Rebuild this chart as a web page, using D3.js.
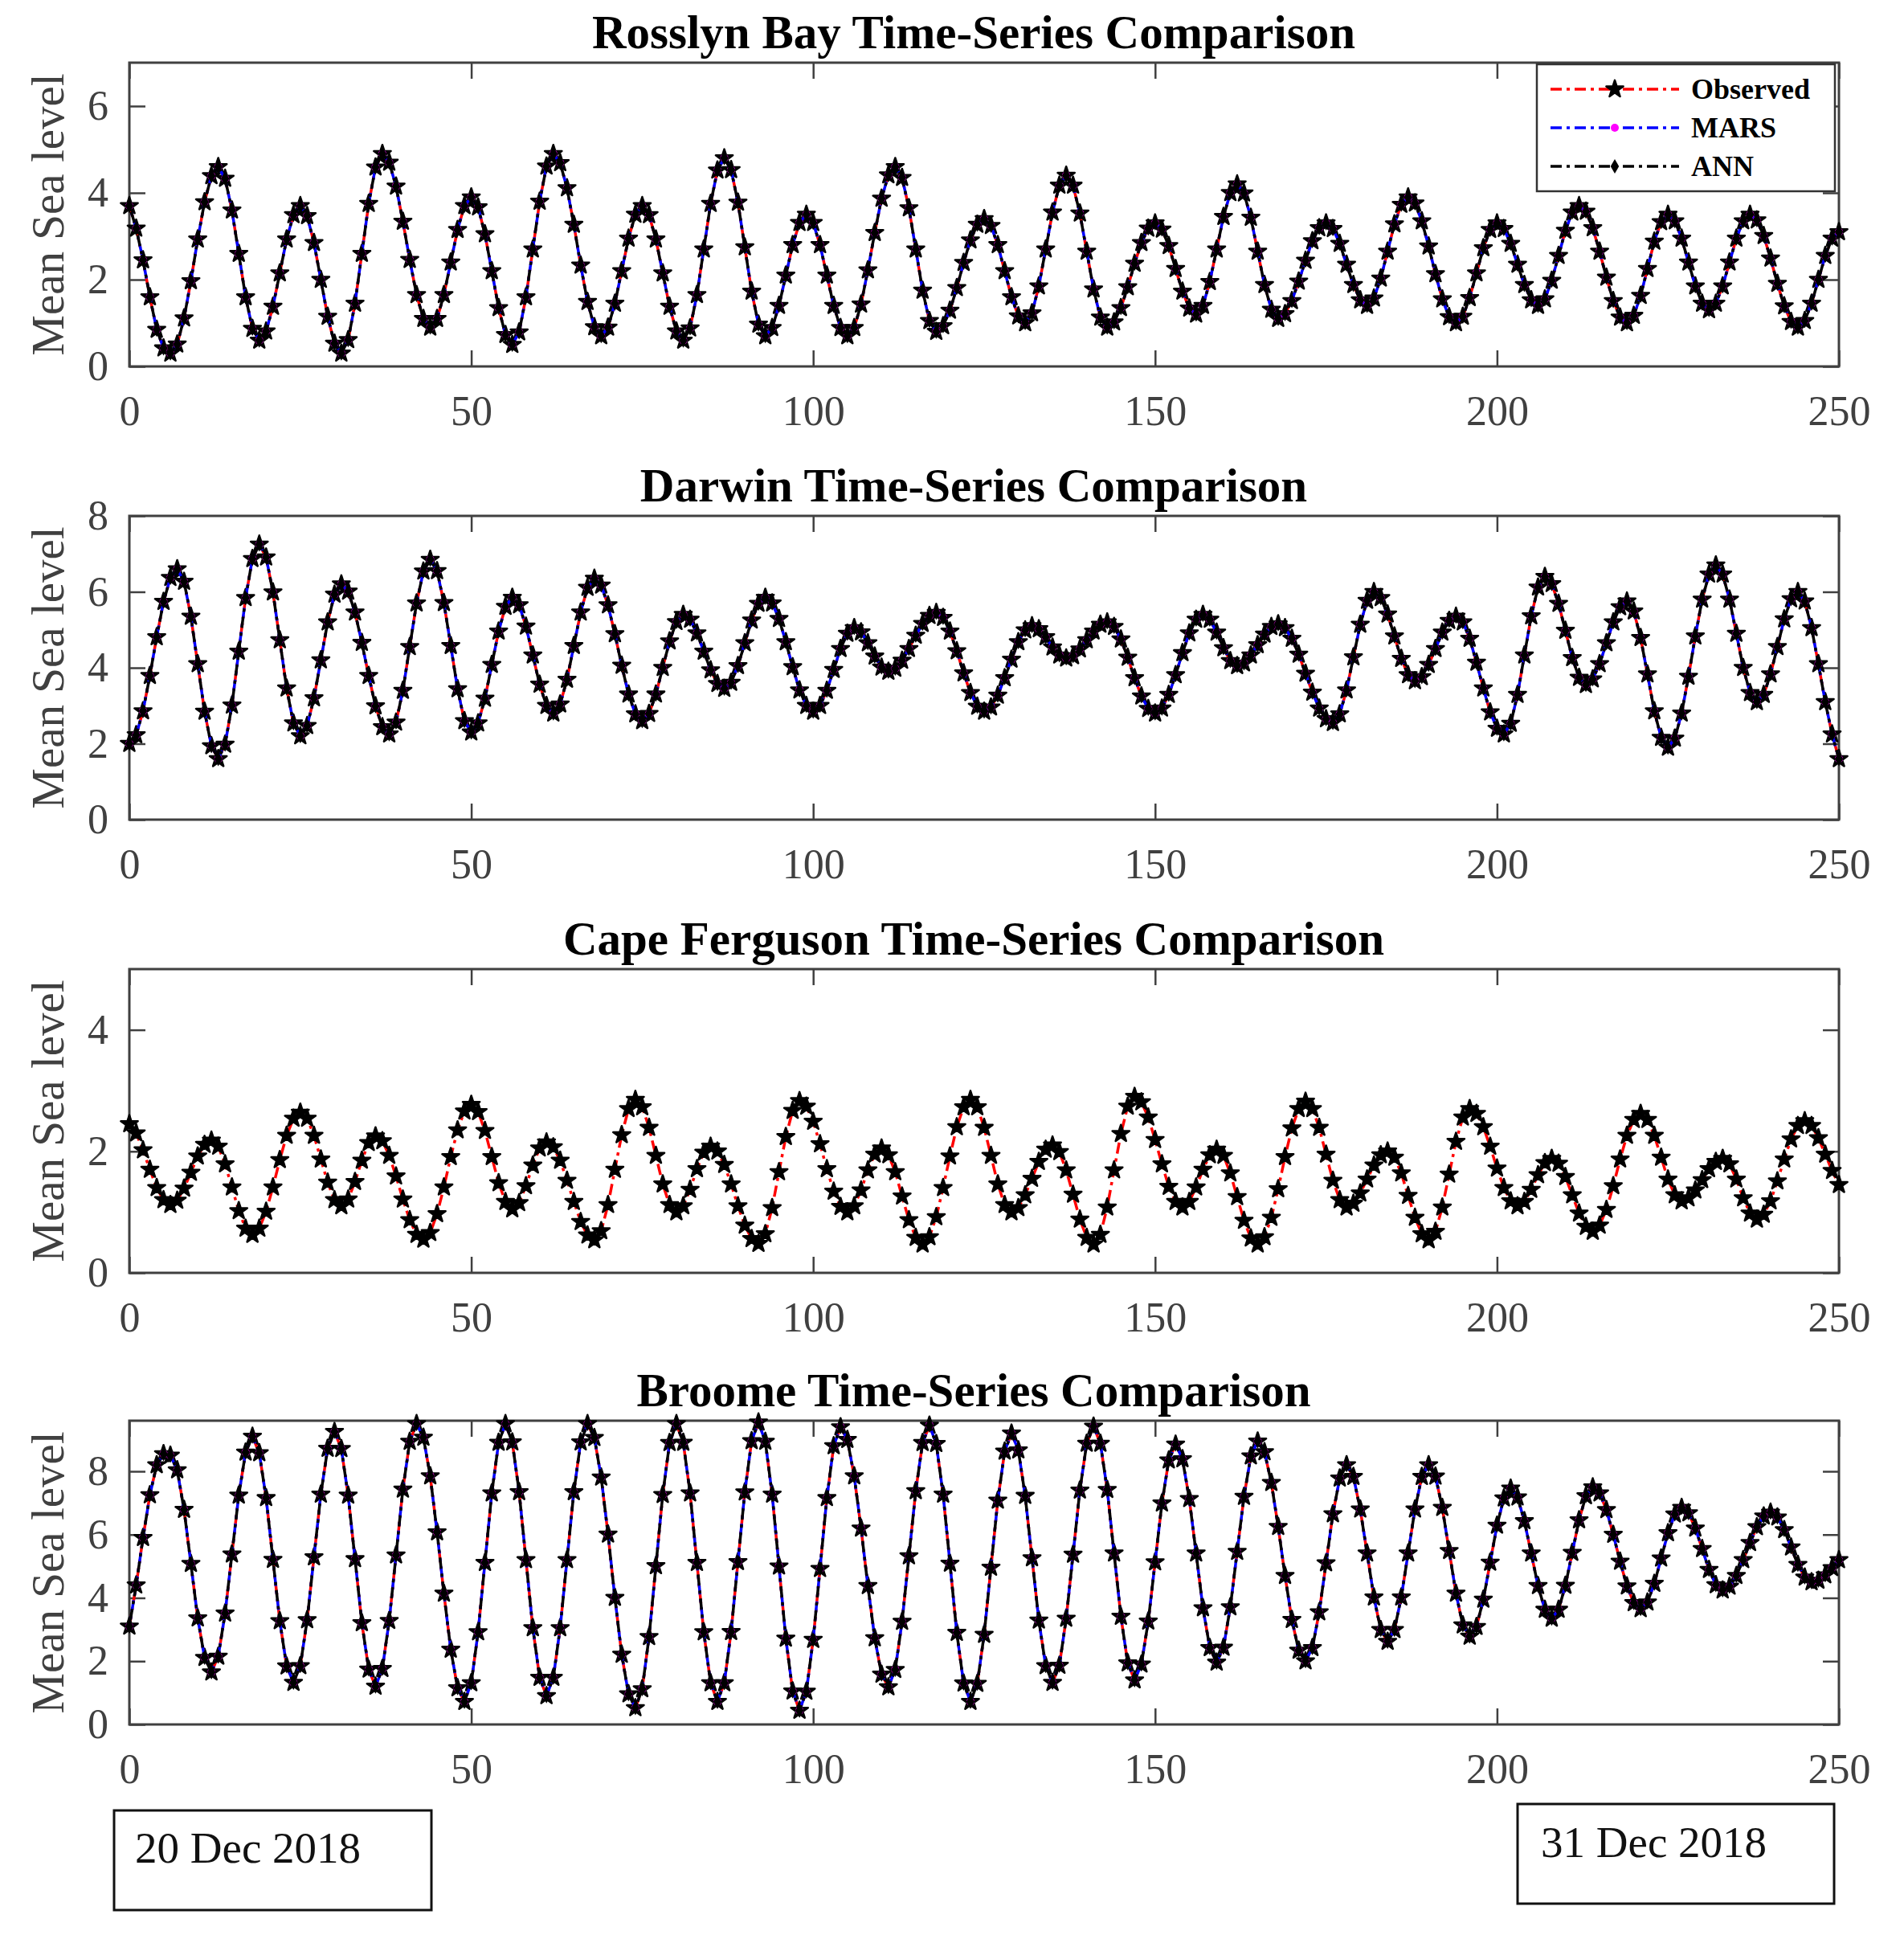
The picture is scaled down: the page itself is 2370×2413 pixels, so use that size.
<!DOCTYPE html>
<html>
<head>
<meta charset="utf-8">
<script src="https://cdn.jsdelivr.net/npm/d3@7"></script>
<style>
  body { margin: 0; background: #fff; }
  svg { display: block; }
</style>
</head>
<body>
<svg id="chart"></svg>
<script>
// ---- data (hourly samples 0..250) ----
const xTicks = [0, 50, 100, 150, 200, 250];
const seriesNames = ['Observed', 'MARS', 'ANN'];
const titles = [
  'Rosslyn Bay Time-Series Comparison',
  'Darwin Time-Series Comparison',
  'Cape Ferguson Time-Series Comparison',
  'Broome Time-Series Comparison'
];
const yMaxes = [7, 8, 5, 9.6];
const yTickSets = [[0, 2, 4, 6], [0, 2, 4, 6, 8], [0, 2, 4], [0, 2, 4, 6, 8]];

const rosslynObs = [
  3.70,3.18,2.45,1.60,0.85,0.42,0.30, 0.51,1.11,1.97,2.93,3.79,4.39,4.60,
  4.33,3.60,2.60,1.60,0.87,0.60, 0.81,1.38,2.15,2.93,3.49,3.70,
  3.47,2.85,2.00,1.15,0.53,0.30, 0.61,1.45,2.60,3.75,4.59,4.90,
  4.70,4.15,3.34,2.46,1.65,1.10,0.90, 1.10,1.65,2.40,3.15,3.70,3.90,
  3.67,3.05,2.20,1.35,0.73,0.50, 0.79,1.60,2.70,3.80,4.61,4.90,
  4.69,4.11,3.27,2.33,1.49,0.91,0.70, 0.90,1.45,2.20,2.95,3.50,3.70,
  3.49,2.93,2.15,1.38,0.81,0.60, 0.88,1.65,2.70,3.75,4.52,4.80,
  4.53,3.78,2.75,1.73,0.97,0.70, 0.89,1.40,2.10,2.80,3.31,3.50,
  3.31,2.80,2.10,1.40,0.89,0.70, 0.89,1.43,2.22,3.08,3.87,4.41,4.60,
  4.35,3.65,2.70,1.75,1.05,0.80, 0.93,1.29,1.81,2.39,2.91,3.27,3.40,
  3.24,2.80,2.20,1.60,1.16,1.00, 1.23,1.85,2.70,3.55,4.17,4.40,
  4.17,3.53,2.65,1.78,1.13,0.90, 1.02,1.35,1.83,2.37,2.85,3.18,3.30,
  3.16,2.78,2.25,1.73,1.34,1.20, 1.40,1.95,2.70,3.45,4.00,4.20,
  3.99,3.43,2.65,1.88,1.31,1.10, 1.21,1.51,1.96,2.44,2.89,3.19,3.30,
  3.17,2.83,2.35,1.88,1.53,1.40, 1.57,2.03,2.65,3.28,3.73,3.90,
  3.76,3.35,2.77,2.13,1.55,1.14,1.00, 1.15,1.58,2.15,2.73,3.15,3.30,
  3.17,2.83,2.35,1.88,1.53,1.40, 1.55,1.98,2.55,3.13,3.55,3.70,
  3.57,3.19,2.65,2.05,1.51,1.13,1.00, 1.17,1.63,2.25,2.88,3.33,3.50,
  3.35,2.95,2.40,1.85,1.45,1.30, 1.45,1.85,2.40,2.95,3.35,3.50,
  3.37,3.01,2.49,1.91,1.39,1.03,0.90, 1.05,1.45,2.00,2.55,2.95,3.10
];

const darwinObs = [
  2.00,2.23,2.86,3.79,4.81,5.74,6.37,6.60, 6.27,5.35,4.10,2.85,1.94,1.60,
  1.98,3.01,4.43,5.84,6.87,7.25, 6.91,5.99,4.73,3.46,2.54,2.20,
  2.47,3.20,4.20,5.20,5.93,6.20, 6.01,5.46,4.66,3.79,2.99,2.44,2.25,
  2.56,3.40,4.55,5.70,6.54,6.85, 6.55,5.71,4.58,3.44,2.60,2.30,
  2.54,3.19,4.08,4.96,5.61,5.85, 5.65,5.09,4.33,3.56,3.00,2.80,
  3.04,3.69,4.58,5.46,6.11,6.35, 6.17,5.65,4.89,4.06,3.30,2.78,2.60,
  2.79,3.30,4.00,4.70,5.21,5.40, 5.27,4.91,4.43,3.94,3.58,3.45,
  3.61,4.05,4.65,5.25,5.69,5.85, 5.70,5.29,4.68,4.02,3.41,3.00,2.85,
  3.00,3.40,3.95,4.50,4.90,5.05, 4.94,4.65,4.30,4.01,3.90,
  3.98,4.19,4.50,4.85,5.16,5.37,5.45, 5.32,4.96,4.44,3.86,3.34,2.98,2.85,
  2.96,3.27,3.73,4.22,4.68,4.99,5.10, 5.02,4.81,4.54,4.33,4.25,
  4.31,4.49,4.73,4.96,5.14,5.20, 5.08,4.75,4.27,3.73,3.25,2.92,2.80,
  2.93,3.29,3.81,4.39,4.91,5.27,5.40, 5.27,4.93,4.52,4.18,4.05,
  4.12,4.33,4.60,4.88,5.08,5.15, 5.05,4.77,4.35,3.85,3.35,2.93,2.65,2.55,
  2.78,3.41,4.28,5.14,5.77,6.00, 5.84,5.41,4.83,4.24,3.81,3.65,
  3.76,4.08,4.50,4.93,5.24,5.35, 5.20,4.77,4.14,3.46,2.83,2.40,2.25,
  2.53,3.29,4.33,5.36,6.12,6.40, 6.21,5.69,4.98,4.26,3.74,3.55,
  3.70,4.10,4.65,5.20,5.60,5.75, 5.49,4.79,3.83,2.86,2.16,1.90,
  2.14,2.80,3.77,4.83,5.80,6.46,6.70, 6.46,5.80,4.90,4.00,3.34,3.10,
  3.29,3.83,4.55,5.28,5.81,6.00, 5.75,5.05,4.10,3.10,2.25,1.60
];

const capeObs = [
  2.45,2.30,2.02,1.70,1.40,1.20,1.12, 1.19,1.39,1.65,1.92,2.11,2.18,
  2.08,1.79,1.41,1.02,0.73,0.63, 0.73,1.01,1.41,1.86,2.26,2.54,2.64,
  2.54,2.26,1.87,1.49,1.20,1.10, 1.21,1.50,1.85,2.14,2.25,
  2.17,1.93,1.59,1.21,0.87,0.63,0.55, 0.66,0.97,1.41,1.91,2.35,2.66,2.77,
  2.65,2.34,1.91,1.48,1.17,1.05, 1.15,1.43,1.77,2.05,2.15,
  2.07,1.85,1.52,1.17,0.84,0.62,0.54, 0.69,1.12,1.70,2.27,2.70,2.85,
  2.73,2.39,1.93,1.46,1.12,1.00, 1.10,1.37,1.71,1.98,2.08,
  2.00,1.78,1.46,1.10,0.78,0.56,0.48, 0.64,1.07,1.66,2.24,2.67,2.83,
  2.74,2.49,2.12,1.71,1.34,1.09,1.00, 1.10,1.36,1.69,1.95,2.05,
  1.94,1.66,1.26,0.87,0.58,0.47, 0.59,0.92,1.40,1.92,2.40,2.73,2.85,
  2.73,2.39,1.93,1.46,1.12,1.00, 1.07,1.28,1.55,1.83,2.03,2.10,
  1.99,1.69,1.29,0.88,0.58,0.47, 0.63,1.08,1.69,2.29,2.74,2.90,
  2.81,2.56,2.19,1.79,1.42,1.17,1.08, 1.17,1.41,1.70,1.94,2.03,
  1.93,1.64,1.25,0.86,0.57,0.47, 0.59,0.91,1.38,1.91,2.38,2.70,2.82,
  2.70,2.39,1.95,1.52,1.20,1.08, 1.14,1.31,1.54,1.77,1.94,2.00,
  1.90,1.64,1.27,0.91,0.64,0.54, 0.68,1.08,1.62,2.16,2.56,2.70,
  2.62,2.40,2.08,1.72,1.40,1.18,1.10, 1.17,1.37,1.61,1.81,1.88,
  1.80,1.58,1.28,0.98,0.76,0.68, 0.78,1.04,1.43,1.87,2.26,2.52,2.62,
  2.52,2.26,1.90,1.54,1.28,1.18, 1.23,1.36,1.53,1.71,1.83,1.88,
  1.79,1.54,1.23,0.98,0.88, 0.96,1.18,1.51,1.87,2.20,2.42,2.50,
  2.42,2.22,1.95,1.68,1.45
];

const broomeObs = [
  3.10,4.40,5.90,7.25,8.20,8.55,8.50, 8.04,6.79,5.08,3.36,2.11,1.65,
  2.15,3.51,5.38,7.24,8.60,9.10, 8.58,7.16,5.21,3.27,1.84,1.32,
  1.85,3.30,5.29,7.27,8.72,9.25, 8.71,7.24,5.23,3.21,1.74,1.20,
  1.76,3.28,5.35,7.43,8.94,9.50, 9.07,7.85,6.08,4.14,2.37,1.15,0.72,
  1.31,2.92,5.11,7.31,8.91,9.50, 8.92,7.35,5.20,3.05,1.48,0.90,
  1.48,3.05,5.20,7.35,8.92,9.50, 9.06,7.81,6.01,4.01,2.21,0.96,0.52,
  1.12,2.77,5.01,7.26,8.90,9.50, 8.91,7.31,5.11,2.92,1.31,0.72,
  1.31,2.93,5.14,7.34,8.96,9.55, 8.94,7.27,5.00,2.72,1.05,0.44,
  1.04,2.68,4.92,7.16,8.80,9.40, 9.00,7.85,6.20,4.38,2.73,1.58,1.18,
  1.73,3.25,5.32,7.38,8.90,9.45, 8.87,7.27,5.09,2.90,1.30,0.72,
  1.29,2.84,4.96,7.08,8.63,9.20, 8.67,7.23,5.26,3.29,1.85,1.32,
  1.86,3.35,5.37,7.40,8.88,9.42, 8.88,7.42,5.41,3.41,1.94,1.40,
  1.90,3.26,5.13,6.99,8.35,8.85, 8.39,7.13,5.41,3.68,2.42,1.96,
  2.43,3.71,5.46,7.20,8.48,8.95, 8.61,7.64,6.25,4.70,3.31,2.34,2.00,
  2.42,3.55,5.10,6.65,7.78,8.20, 7.83,6.80,5.41,4.02,2.99,2.62,
  2.99,4.02,5.41,6.80,7.83,8.20, 7.84,6.85,5.49,4.14,3.14,2.78,
  3.09,3.95,5.12,6.29,7.15,7.46, 7.18,6.43,5.41,4.38,3.63,3.35,
  3.63,4.39,5.43,6.46,7.22,7.50, 7.31,6.78,6.00,5.15,4.37,3.84,3.65,
  3.86,4.45,5.25,6.05,6.64,6.85, 6.68,6.20,5.55,4.89,4.41,4.24,
  4.36,4.70,5.20,5.74,6.24,6.58,6.70, 6.55,6.15,5.60,5.05,4.65,4.50,
  4.55,4.72,4.95,5.20
];

// the MARS and ANN curves sit on the observed curve at this scale
const rosslynMars = rosslynObs, rosslynAnn = rosslynObs;
const darwinMars = darwinObs, darwinAnn = darwinObs;
const broomeMars = broomeObs, broomeAnn = broomeObs;

const panelSeries = [
  [rosslynObs, rosslynMars, rosslynAnn],
  [darwinObs, darwinMars, darwinAnn],
  [capeObs],
  [broomeObs, broomeMars, broomeAnn]
];

const dateLabels = ['20 Dec 2018', '31 Dec 2018'];

// ---- layout ----
const width = 2370, height = 2413;
const plotLeft = 161, plotRight = 2289;
const panelTops = [78, 642, 1206, 1768];
const panelH = 378;
const tickLen = 20;
const serif = '"Liberation Serif", "Times New Roman", serif';
const axisColor = '#404040';

const styles = [
  { stroke: '#ff0000', offset: 0 },
  { stroke: '#0000ff', offset: 11 },
  { stroke: '#000000', offset: 22 }
];

const svg = d3.select('#chart')
  .attr('width', width)
  .attr('height', height)
  .style('background', '#fff');

const x = d3.scaleLinear().domain([0, 250]).range([plotLeft, plotRight]);

// draw one marker of a series at (cx, cy)
function drawMarker(g, s, cx, cy) {
  if (s === 0) {
    g.append('path')
      .attr('d', d3.symbol(d3.symbolStar, 140)())
      .attr('transform', `translate(${cx},${cy})`)
      .attr('fill', '#000').attr('stroke', '#000').attr('stroke-width', 2.5)
      .attr('stroke-linejoin', 'round');
  } else if (s === 1) {
    g.append('circle').attr('cx', cx).attr('cy', cy).attr('r', 5)
      .attr('fill', '#ff00ff');
  } else {
    g.append('path')
      .attr('d', d3.symbol(d3.symbolDiamond, 95)())
      .attr('transform', `translate(${cx},${cy})`)
      .attr('fill', '#000');
  }
}

function styleAxis(g) {
  g.select('.domain').remove();
  g.selectAll('.tick line').attr('stroke', axisColor).attr('stroke-width', 2.5);
  g.selectAll('.tick text')
    .attr('fill', axisColor)
    .style('font-family', serif)
    .style('font-size', '52px');
}

titles.forEach((title, i) => {
  const top = panelTops[i];
  const bottom = top + panelH;
  const y = d3.scaleLinear().domain([0, yMaxes[i]]).range([bottom, top]);
  const g = svg.append('g');

  // axes with inward ticks on all four sides
  g.append('g')
    .attr('transform', `translate(0,${bottom})`)
    .call(d3.axisBottom(x).tickValues(xTicks).tickSizeInner(-tickLen).tickSizeOuter(0)
      .tickPadding(36).tickFormat(d3.format('d')))
    .call(styleAxis);
  g.append('g')
    .attr('transform', `translate(0,${top})`)
    .call(d3.axisTop(x).tickValues(xTicks).tickSizeInner(-tickLen).tickSizeOuter(0).tickFormat(''))
    .call(styleAxis);
  g.append('g')
    .attr('transform', `translate(${plotLeft},0)`)
    .call(d3.axisLeft(y).tickValues(yTickSets[i]).tickSizeInner(-tickLen).tickSizeOuter(0)
      .tickPadding(26).tickFormat(d3.format('d')))
    .call(styleAxis);
  g.append('g')
    .attr('transform', `translate(${plotRight},0)`)
    .call(d3.axisRight(y).tickValues(yTickSets[i]).tickSizeInner(-tickLen).tickSizeOuter(0).tickFormat(''))
    .call(styleAxis);

  g.append('rect')
    .attr('x', plotLeft).attr('y', top)
    .attr('width', plotRight - plotLeft).attr('height', panelH)
    .attr('fill', 'none').attr('stroke', axisColor).attr('stroke-width', 3);

  // series: line first, then its markers
  const line = d3.line().x((d, k) => x(k)).y(d => y(d));
  panelSeries[i].forEach((vals, s) => {
    g.append('path')
      .datum(vals)
      .attr('d', line)
      .attr('fill', 'none')
      .attr('stroke', styles[s].stroke)
      .attr('stroke-width', 3.5)
      .attr('stroke-dasharray', '14,6,4,6')
      .attr('stroke-dashoffset', styles[s].offset);
    const mg = g.append('g');
    vals.forEach((v, k) => drawMarker(mg, s, x(k), y(v)));
  });

  // title
  svg.append('text')
    .attr('x', 1212)
    .attr('y', top - 18)
    .attr('text-anchor', 'middle')
    .style('font-family', serif)
    .style('font-weight', 'bold')
    .style('font-size', '59px')
    .attr('fill', '#000')
    .text(title);

  // y label
  svg.append('text')
    .attr('transform', `translate(59,${top + panelH / 2}) rotate(-90)`)
    .attr('text-anchor', 'middle')
    .attr('dominant-baseline', 'central')
    .style('font-family', serif)
    .style('font-size', '57px')
    .attr('fill', axisColor)
    .text('Mean Sea level');
});

// legend in the first panel
const legend = svg.append('g');
legend.append('rect')
  .attr('x', 1913).attr('y', 80).attr('width', 371).attr('height', 158)
  .attr('fill', '#fff').attr('stroke', '#333').attr('stroke-width', 2.5);
seriesNames.forEach((name, s) => {
  const ly = 111 + s * 48;
  legend.append('line')
    .attr('x1', 1930).attr('x2', 2090).attr('y1', ly).attr('y2', ly)
    .attr('stroke', styles[s].stroke).attr('stroke-width', 3.5)
    .attr('stroke-dasharray', '14,6,4,6');
  drawMarker(legend, s, 2010, ly);
  legend.append('text')
    .attr('x', 2105).attr('y', ly)
    .attr('dominant-baseline', 'central')
    .style('font-family', serif)
    .style('font-weight', 'bold')
    .style('font-size', '36px')
    .attr('fill', '#000')
    .text(name);
});

// date boxes under the last panel
const dateBoxes = [
  { x: 142, y: 2253, w: 395, h: 124, tx: 168, ty: 2318 },
  { x: 1889, y: 2245, w: 394, h: 124, tx: 1918, ty: 2311 }
];
dateLabels.forEach((label, i) => {
  const b = dateBoxes[i];
  svg.append('rect')
    .attr('x', b.x).attr('y', b.y).attr('width', b.w).attr('height', b.h)
    .attr('fill', '#fff').attr('stroke', '#111').attr('stroke-width', 3);
  svg.append('text')
    .attr('x', b.tx).attr('y', b.ty)
    .style('font-family', serif)
    .style('font-size', '55px')
    .attr('fill', '#111')
    .text(label);
});
</script>
</body>
</html>
